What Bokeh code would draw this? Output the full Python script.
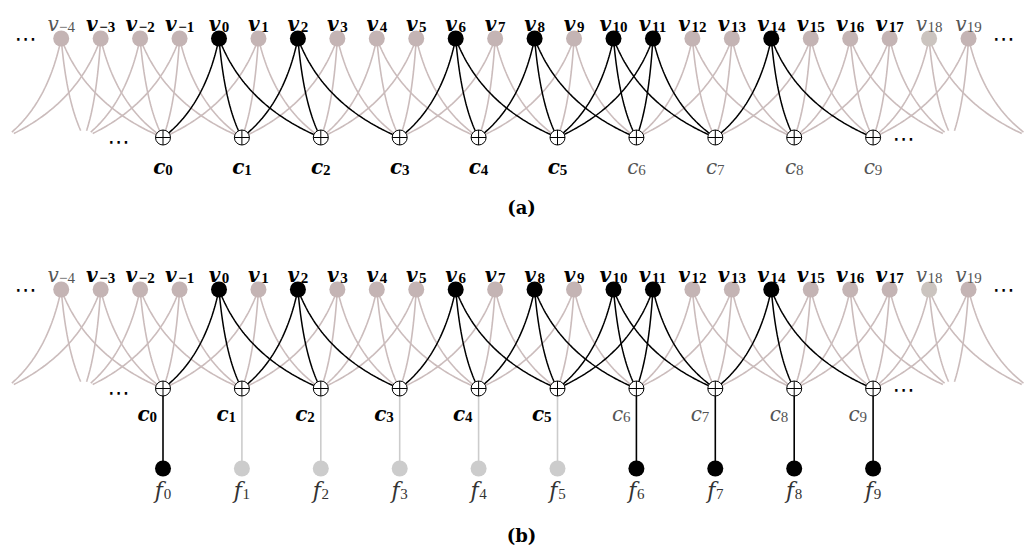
import math
import numpy as np
from bokeh.plotting import figure
from bokeh.models import Range1d
from bokeh.embed import file_html
from bokeh.resources import INLINE
from bokeh.core.properties import value

# ---------------- data ----------------
var_ids = list(range(-4, 20))            # variable nodes v_-4 ... v_19
active_vars = [0, 2, 6, 8, 10, 11, 14]   # black variable nodes
bold_vars = list(range(-3, 18))          # bold labels v_-3 ... v_17
faded_vars = [18]
check_ids = list(range(0, 10))           # check nodes c_0 ... c_9
bold_checks = [0, 1, 2, 3, 4, 5]
active_fs = [0, 6, 7, 8, 9]              # black f nodes in panel (b)
check_offsets = [0, 1, 2]                # v_i -> c_{floor(i/2)+k}
panel_names = ["(a)", "(b)"]

# ---------------- layout ----------------
W, H = 1027, 551
VX0, VDX = 218.5, 39.45
CX0, CDX = 162.5, 78.9
PANEL_DY = [0, 251]
VY, CY = 38, 137

def vx(i):
    return VX0 + VDX * i

def cx(j):
    return CX0 + CDX * j

GRAY_EDGE = "#cbbcbc"
GRAY_NODE = "#c4b4b4"
FADED_NODE = "#cbc4bf"
LIGHT_F = "#cccccc"
REG_TXT = "#555555"

p = figure(width=W, height=H, x_range=Range1d(0, W), y_range=Range1d(H, 0),
           output_backend="svg", toolbar_location=None, min_border=0,
           x_axis_type=None, y_axis_type=None)
p.grid.visible = False
p.outline_line_color = None
p.background_fill_color = "white"
p.border_fill_color = "white"


def curve(x0, y0, x1, y1, phantom):
    dx, dy = x1 - x0, y1 - y0
    qx, qy = x0 + 0.25 * dx, y0 + 0.68 * dy
    t = np.linspace(0, 1, 50)
    xs = (1 - t) ** 2 * x0 + 2 * t * (1 - t) * qx + t ** 2 * x1
    ys = (1 - t) ** 2 * y0 + 2 * t * (1 - t) * qy + t ** 2 * y1
    if phantom:
        keep = np.hypot(xs - x1, ys - y1) > 7.0
        xs, ys = xs[keep], ys[keep]
    return list(xs), list(ys)


gray_xs, gray_ys, blk_xs, blk_ys = [], [], [], []
for oy in PANEL_DY:
    for i in var_ids:
        base = math.floor(i / 2)
        for k in check_offsets:
            j = base + k
            phantom = j not in check_ids
            xs, ys = curve(vx(i), VY + oy, cx(j), CY + oy, phantom)
            if i in active_vars:
                blk_xs.append(xs); blk_ys.append(ys)
            else:
                gray_xs.append(xs); gray_ys.append(ys)

p.multi_line(gray_xs, gray_ys, line_color=GRAY_EDGE, line_width=1.6)
p.multi_line(blk_xs, blk_ys, line_color="black", line_width=1.5)

# f lines (panel b)
oy = PANEL_DY[1]
for j in check_ids:
    col = "black" if j in active_fs else LIGHT_F
    p.line([cx(j), cx(j)], [CY + oy, 468], line_color=col, line_width=1.6)
p.scatter([cx(j) for j in check_ids], [468] * len(check_ids), size=16,
          fill_color=["black" if j in active_fs else LIGHT_F for j in check_ids],
          line_color=None)

# nodes
for oy in PANEL_DY:
    cols = []
    for i in var_ids:
        if i in active_vars:
            cols.append("black")
        elif i in faded_vars:
            cols.append(FADED_NODE)
        else:
            cols.append(GRAY_NODE)
    p.scatter([vx(i) for i in var_ids], [VY + oy] * len(var_ids), size=16,
              fill_color=cols, line_color=None)
    p.scatter([cx(j) for j in check_ids], [CY + oy] * len(check_ids), size=15,
              marker="circle_cross", fill_color="white", line_color="black",
              line_width=1)

# ---------------- labels ----------------
groups = {}

def add(key, x, y, t):
    g = groups.setdefault(key, {"x": [], "y": [], "text": []})
    g["x"].append(x); g["y"].append(y); g["text"].append(t)

SUB_SZ = 15
base_sz = {"v": 20, "c": 20, "f": 22}
base_w = {("v", False): 0.58, ("v", True): 0.66, ("c", False): 0.55,
          ("c", True): 0.60, ("f", False): 0.40}

def sub_width(s):
    return sum(0.564 if ch == "\u2212" else 0.5 for ch in s) * SUB_SZ

def label(letter, idx, bold, color, xc, ybase, align="center"):
    sub = str(idx).replace("-", "\u2212")
    bs = base_sz[letter]
    wb = base_w[(letter, bold)] * bs
    ws = sub_width(sub)
    if align == "center":
        left = xc - (wb + ws) / 2
    else:
        left = xc - (wb + ws)
    add(("DejaVu Serif", "bold italic" if bold else "italic", bs, color),
        left, ybase, letter)
    add(("Liberation Serif", "bold" if bold else "normal", SUB_SZ, color),
        left + wb, ybase + 3, sub)

for pi, oy in enumerate(PANEL_DY):
    for i in var_ids:
        b = i in bold_vars
        label("v", i, b, "black" if b else REG_TXT, vx(i), 23 + oy)
    for j in check_ids:
        b = j in bold_checks
        col = "black" if b else REG_TXT
        if pi == 0:
            label("c", j, b, col, cx(j), 166 + oy)
        else:
            label("c", j, b, col, cx(j) - 6, 413, align="right")

for j in check_ids:
    label("f", j, False, "#333333", cx(j), 490)

for (font, style, size, color), g in groups.items():
    p.text(x=g["x"], y=g["y"], text=g["text"], text_font=value(font),
           text_font_style=style, text_font_size=f"{size}px", text_color=color,
           text_align="left", text_baseline="alphabetic")

# ellipses
ell_x = [25, 118, 1003, 903] * 2
ell_y = [38, 141, 38, 138] + [38 + 251, 141 + 251, 38 + 251, 138 + 251]
p.text(x=ell_x, y=ell_y, text=["\u22ef"] * len(ell_x), text_font=value("DejaVu Sans"),
       text_font_size="22px", text_color="black",
       text_align="center", text_baseline="middle")

# panel captions
p.text(x=[521, 521], y=[207, 535], text=panel_names, text_font=value("DejaVu Serif"),
       text_font_style="bold", text_font_size="18px", text_color="black",
       text_align="center", text_baseline="middle")

open("out.html", "w").write(file_html(p, INLINE))
